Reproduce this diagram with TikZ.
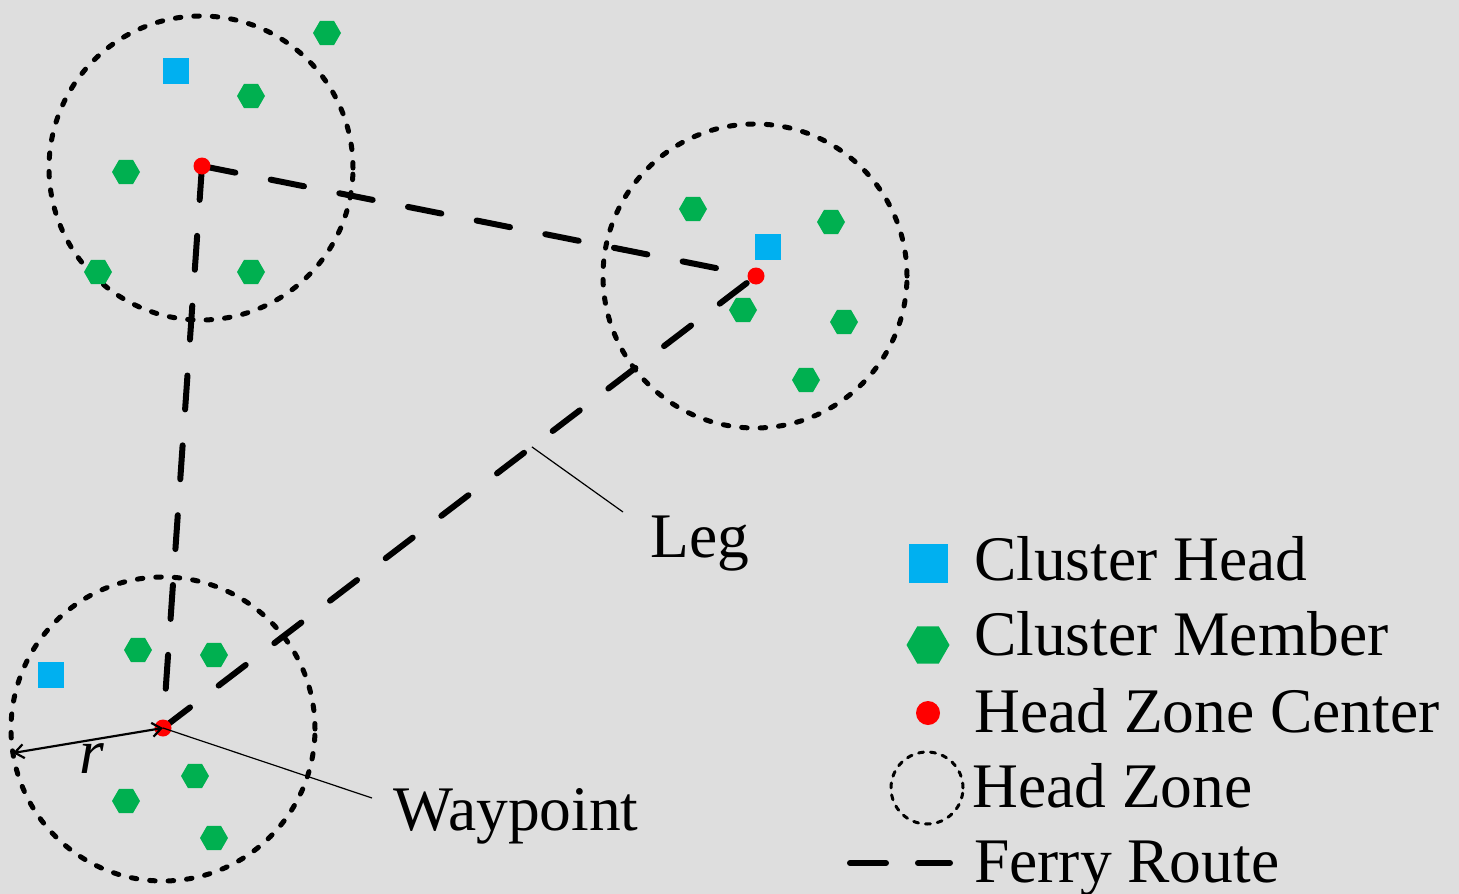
\documentclass[tikz,border=0pt]{standalone}
\usepackage{fontspec}
\setmainfont{Liberation Serif}
\usetikzlibrary{shapes.geometric,arrows.meta,calc}
\definecolor{bg}{RGB}{222,222,222}
\definecolor{chblue}{RGB}{0,176,240}
\definecolor{cmgreen}{RGB}{0,176,80}
\definecolor{wpred}{RGB}{255,0,0}
\begin{document}
\begin{tikzpicture}[x=1pt,y=-1pt,
  zone/.style={circle,draw=black,line width=5pt,dash pattern=on 5.5pt off 13pt,line cap=round,minimum size=304pt,inner sep=0pt},
  route/.style={draw=black,line width=6pt,dash pattern=on 34pt off 36pt,line cap=round},
  head/.style={rectangle,fill=chblue,minimum size=26pt,inner sep=0pt},
  member/.style={regular polygon,regular polygon sides=6,fill=cmgreen,minimum size=28pt,inner sep=0pt},
  center/.style={circle,fill=wpred,minimum size=17pt,inner sep=0pt},
  leader/.style={draw=black,line width=1.2pt},
  lbl/.style={anchor=base west,inner sep=0pt,font=\fontsize{63.5}{76}\selectfont}]
\fill[bg] (0,0) rectangle (1459,894);
\useasboundingbox (0,0) rectangle (1459,894);

% head zones
\node[zone] (z1) at (201,168) {};
\node[zone] (z2) at (755,276) {};
\node[zone] (z3) at (163,729) {};

% waypoints (coordinates)
\coordinate (p1) at (202,166);
\coordinate (p2) at (756,276);
\coordinate (p3) at (163,728);

% ferry route
\draw[route] (p1) -- (p2);
\draw[route] (p1) -- (p3);
\draw[route] (p3) -- (p2);

% cluster heads
\node[head] (h1) at (176,71) {};
\node[head] (h2) at (768,247) {};
\node[head] (h3) at (51,675) {};

% cluster members
\node[member] (m1) at (327,33) {};
\node[member] (m2) at (251,96) {};
\node[member] (m3) at (126,172) {};
\node[member] (m4) at (98,272) {};
\node[member] (m5) at (251,272) {};
\node[member] (m6) at (693,209) {};
\node[member] (m7) at (831,222) {};
\node[member] (m8) at (743,310) {};
\node[member] (m9) at (844,322) {};
\node[member] (m10) at (806,380) {};
\node[member] (m11) at (138,650) {};
\node[member] (m12) at (214,655) {};
\node[member] (m13) at (195,776) {};
\node[member] (m14) at (126,801) {};
\node[member] (m15) at (214,838) {};

% zone centers
\node[center] (c1) at (p1) {};
\node[center] (c2) at (p2) {};
\node[center] (c3) at (p3) {};

% radius arrow
\coordinate (redge) at (13,753);
\draw[line width=2.2pt,{Straight Barb[length=9pt,width=14pt]}-{Straight Barb[length=9pt,width=14pt]}] (redge) -- (c3.center);
\node[lbl,font=\fontsize{63.5}{76}\selectfont\itshape] (rl) at (79,773) {r};

% leader lines and labels
\coordinate (legpt) at ($(p3)!0.622!(p2)$);
\node[lbl] (leg) at (650,557) {Leg};
\coordinate (legend1) at (623,512);
\draw[leader] (legpt) -- (legend1);
\node[lbl] (wp) at (393,830) {Waypoint};
\coordinate (wpend) at (372,798);
\draw[leader] (c3.center) -- (wpend);

% legend
\node[rectangle,fill=chblue,minimum size=39pt,inner sep=0pt] (lh) at (928,563) {};
\node[lbl] (t1) at (974,580) {Cluster Head};
\node[regular polygon,regular polygon sides=6,fill=cmgreen,minimum size=43pt,inner sep=0pt] (lm) at (928,645) {};
\node[lbl] (t2) at (974,655) {Cluster Member};
\node[circle,fill=wpred,minimum size=24pt,inner sep=0pt] (lc) at (928,713) {};
\node[lbl] (t3) at (974,732) {Head Zone Center};
\node[circle,draw=black,line width=3pt,dash pattern=on 5pt off 7pt,line cap=round,minimum size=72pt,inner sep=0pt] (lz) at (927,788) {};
\node[lbl] (t4) at (972,807) {Head Zone};
\coordinate (lr1) at (850,863);
\coordinate (lr2) at (950,863);
\draw[line width=6pt,dash pattern=on 36pt off 32pt,line cap=round] (lr1) -- (lr2);
\node[lbl] (t5) at (974,882) {Ferry Route};
\end{tikzpicture}
\end{document}
